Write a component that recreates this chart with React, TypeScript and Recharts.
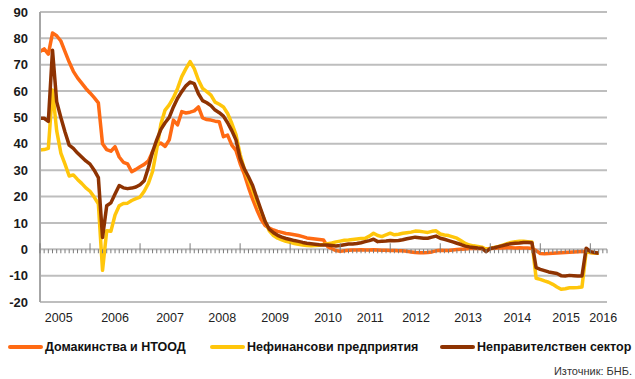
import React from 'react';
import { LineChart, Line, XAxis, YAxis, CartesianGrid } from 'recharts';

// monthly values, Jan 2005 .. Mar 2016 (% y/y)
const households = [
  75, 76, 74, 82, 81, 79, 75, 71, 67.5, 65,
  63, 61, 59.3, 57.5, 55.5, 40, 37.8, 37.2, 38.9, 35,
  33, 32.4, 29.4, 30.3, 31.3, 32.2, 33.5, 37, 39.5, 40.3,
  39, 41.5, 49, 47.2, 52.2, 51.7, 52, 52.5, 54, 49.8,
  49.2, 49, 48.6, 48.4, 42.7, 43.3, 39.5, 37.5, 32.5, 28.5,
  23.5, 19, 15, 11.5, 9, 8, 7.3, 6.8, 6.4, 6,
  5.8, 5.5, 5.2, 4.8, 4.3, 4.1, 3.9, 3.7, 3.5, 1,
  0.2, -0.5, -0.8, -0.6, -0.4, -0.3, -0.3, -0.2, -0.3, -0.3,
  -0.2, -0.3, -0.4, -0.4, -0.5, -0.5, -0.6, -0.6, -0.8, -1,
  -1.2, -1.3, -1.3, -1.2, -1, -0.6, -0.4, -0.5, -0.5, -0.3,
  -0.1, 0, 0.1, 0.3, 0.4, 0.3, 0.2, 0.1, 0.3, 0.4,
  0.5, 0.5, 0.6, 0.6, 0.5, 0.6, 0.5, 0.5, 0.3, -0.5,
  -1.6, -1.7, -1.6, -1.5, -1.4, -1.3, -1.2, -1.1, -1, -0.9,
  -0.8, -1, -1.2, -1.4, -1.5,
];

const nonFinancial = [
  37.7, 37.8, 38.3, 60.4, 45, 36.5, 32.3, 27.8, 28.2, 26.5,
  25, 23.3, 22, 19.8, 17.2, -8, 7, 6.8, 13, 16.5,
  17.4, 17.5, 18.5, 19.2, 19.8, 22, 25, 29.5, 38, 47.5,
  52.8, 54.8, 57.5, 61, 65.5, 68.5, 71.2, 68.5, 64.2, 61,
  59.8, 58.5, 55.8, 55, 54, 51.5, 47.8, 43.5, 36, 30.5,
  26.5, 22.5, 18.2, 14.5, 10.5, 7, 5.2, 4.2, 3.6, 3,
  2.6, 2.2, 1.9, 1.6, 1.4, 1.3, 1.4, 1.5, 1.8, 2.1,
  2.4, 2.8, 3.1, 3.4, 3.5, 3.7, 3.9, 4.1, 4.2, 5,
  6.1, 5.2, 4.8, 5.5, 6.1, 5.5, 5.7, 6.1, 6.3, 6.5,
  6.9, 6.8, 6.6, 6.4, 6.8, 7, 5.8, 5.4, 5.2, 4.7,
  4.2, 3.2, 2.2, 1.6, 1.3, 1.1, 0.8, 0, 0.3, 0.7,
  1.1, 1.6, 2.1, 2.6, 2.9, 3, 3, 2.9, 2.8, -11,
  -11.4, -12, -12.5, -13.3, -14.3, -15.2, -15, -14.6, -14.6, -14.5,
  -14.3, -0.8, -1.2, -1.4, -1.5,
];

const nonGovernment = [
  49.7, 49.7, 48.5, 75.5, 56, 50, 44.5, 39.5, 38.3, 36.5,
  35, 33.5, 32.3, 30, 27.2, 4.5, 16.5, 17.6, 21, 24.2,
  23.3, 23, 23.2, 23.6, 24.5, 26, 31, 37, 41.5, 45.5,
  48, 50, 54, 57.3, 59.8, 62, 63.4, 62.8, 59, 56.4,
  55.6, 54.5, 52.8, 51.8, 50.5, 48, 45, 41.5, 34.5, 30.5,
  27.5, 24.2, 19.5, 15, 10.5, 7.6, 6.3, 5.3, 4.6, 4.1,
  3.7, 3.3, 3, 2.6, 2.3, 2.1, 1.9, 1.7, 1.6, 1.6,
  1.4, 1.2, 1.4, 1.7, 2, 2, 2.2, 2.5, 2.9, 3.3,
  3.8, 2.9, 3, 3.1, 3.3, 3.2, 3.3, 3.6, 4, 4.3,
  4.6, 4.4, 4.2, 4.2, 4.6, 5, 4.2, 3.8, 3.3, 2.8,
  2.3, 1.8, 1.2, 0.9, 0.7, 0.5, 0.4, -0.9, 0.3, 0.6,
  1, 1.4, 1.8, 2.1, 2.3, 2.4, 2.6, 2.6, 2.5, -7,
  -7.6, -8.1, -8.6, -8.9, -9.2, -10, -10.1, -9.9, -10, -10.1,
  -10.1, 0.4, -0.9, -1.2, -1.5,
];

const YEAR_LABELS = ['2005', '2006', '2007', '2008', '2009', '2010', '2011', '2012', '2013', '2014', '2015', '2016'];
// where each year label sits, in months from Jan 2005
const YEAR_LABEL_AT = [4.5, 18, 31.2, 43.7, 56.4, 69.1, 79.2, 90.2, 102.7, 114.5, 126.2, 135.1];
const Y_TICKS = [-20, -10, 0, 10, 20, 30, 40, 50, 60, 70, 80, 90];
const MONTHS_ON_AXIS = 136;

const SERIES = [
  { key: 'households', name: 'Домакинства и НТООД', color: '#FF6A13' },
  { key: 'nonFinancial', name: 'Нефинансови предприятия', color: '#FFC60B' },
  { key: 'nonGovernment', name: 'Неправителствен сектор', color: '#8E3302' },
];

const W = 635;
const H = 379;
const MARGIN = { top: 12, right: 28, left: 0, bottom: 0 };
const Y_AXIS_W = 40;
const YEAR_AXIS_H = 76;
const MONTH_AXIS_H = 1;
const Y_MIN = -20;
const Y_MAX = 90;
const PLOT_H = H - MARGIN.top - MARGIN.bottom - YEAR_AXIS_H - MONTH_AXIS_H;
const ZERO_Y = MARGIN.top + (PLOT_H * Y_MAX) / (Y_MAX - Y_MIN);
const FONT = '"Liberation Sans", Arial, sans-serif';

const data = households.map((v, i) => ({
  m: i,
  households: v,
  nonFinancial: nonFinancial[i],
  nonGovernment: nonGovernment[i],
}));

const monthTicks = Array.from({ length: MONTHS_ON_AXIS + 1 }, (_, i) => i);

// ticks hang off the zero line, longer ones at year starts
const MonthTick = (props: any) => {
  const { x, payload } = props;
  const major = payload.value % 12 === 0;
  return (
    <line
      x1={x}
      x2={x}
      y1={major ? ZERO_Y - 6 : ZERO_Y}
      y2={ZERO_Y + 4}
      stroke="#7A7A7A"
      strokeWidth={1}
    />
  );
};

const legendPos = [8, 210, 440];

export default function App() {
  return (
    <div
      style={{
        position: 'absolute',
        left: 0,
        top: 0,
        width: W,
        height: H,
        background: '#fff',
        fontFamily: FONT,
      }}
    >
      <LineChart width={W} height={H} data={data} margin={MARGIN}>
        <CartesianGrid vertical={false} stroke="#BEBEBE" strokeWidth={2} />
        <XAxis
          xAxisId="years"
          dataKey="m"
          type="number"
          domain={[0, MONTHS_ON_AXIS]}
          ticks={YEAR_LABEL_AT}
          interval={0}
          height={YEAR_AXIS_H}
          axisLine={false}
          tickLine={false}
          tickSize={0}
          tickMargin={10}
          tickFormatter={(_v: number, i: number) => YEAR_LABELS[i]}
          tick={{ fontSize: 12.5, fill: '#222', fontFamily: FONT }}
        />
        <XAxis
          xAxisId="months"
          dataKey="m"
          type="number"
          domain={[0, MONTHS_ON_AXIS]}
          ticks={monthTicks}
          interval={0}
          height={MONTH_AXIS_H}
          axisLine={false}
          tickLine={false}
          tickSize={0}
          tickMargin={0}
          tick={MonthTick}
        />
        <YAxis
          domain={[Y_MIN, Y_MAX]}
          ticks={Y_TICKS}
          interval={0}
          width={Y_AXIS_W}
          axisLine={{ stroke: '#A6A6A6', strokeWidth: 2 }}
          tickLine={false}
          tickMargin={6}
          tick={{ fontSize: 13, fontWeight: 'bold', fill: '#1a1a1a', fontFamily: FONT }}
        />
        <YAxis
          yAxisId="right"
          orientation="right"
          domain={[Y_MIN, Y_MAX]}
          width={0}
          tick={false}
          tickLine={false}
          axisLine={{ stroke: '#A6A6A6', strokeWidth: 2 }}
        />
        {SERIES.map((s) => (
          <Line
            key={s.key}
            xAxisId="months"
            dataKey={s.key}
            name={s.name}
            type="linear"
            stroke={s.color}
            strokeWidth={3.5}
            strokeLinejoin="round"
            dot={false}
            activeDot={false}
            isAnimationActive={false}
          />
        ))}
      </LineChart>

      {SERIES.map((s, i) => (
        <div
          key={s.key}
          style={{
            position: 'absolute',
            left: legendPos[i],
            top: 340,
            display: 'flex',
            alignItems: 'center',
            whiteSpace: 'nowrap',
          }}
        >
          <div style={{ width: 35, height: 4, borderRadius: 2, background: s.color, marginRight: 2 }} />
          <span style={{ fontSize: 12.5, fontWeight: 'bold', color: '#111' }}>{s.name}</span>
        </div>
      ))}
      <div
        style={{
          position: 'absolute',
          right: 3,
          top: 365,
          fontSize: 11,
          color: '#333',
          whiteSpace: 'nowrap',
        }}
      >
        Източник: БНБ.
      </div>
    </div>
  );
}
